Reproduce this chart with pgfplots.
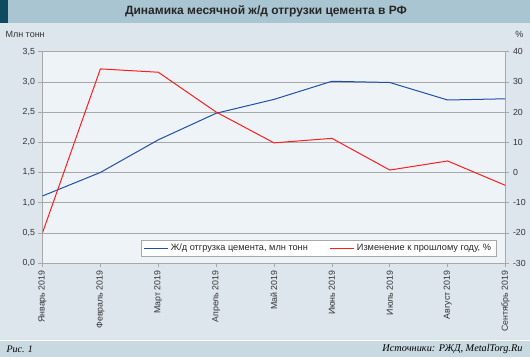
\documentclass[border=0pt]{standalone}
\usepackage{pgfplots}
\pgfplotsset{compat=1.18}
\usepackage{fontspec}
\setmainfont{Liberation Sans}
\newfontfamily\serifit{Liberation Serif}
\definecolor{titleband}{HTML}{A9C5D1}
\definecolor{darkstrip}{HTML}{0E4A60}
\definecolor{mainbg}{HTML}{DCE6EC}
\definecolor{plotbg}{HTML}{EEF3F7}
\definecolor{footband}{HTML}{C9D9E1}
\definecolor{gridc}{HTML}{A8A8A8}
\definecolor{blueline}{HTML}{1F50A8}
\definecolor{redline}{HTML}{FF1E1E}
\begin{document}
\begin{tikzpicture}[x=1pt,y=1pt]
\fill[mainbg] (0,0) rectangle (530,357);
\fill[titleband] (0,334) rectangle (530,357);
\fill[darkstrip] (0,334) rectangle (8,357);
\fill[white] (0,16) rectangle (530,17.5);
\fill[footband] (0,0) rectangle (530,16);
\useasboundingbox (0,0) rectangle (530,357);
\node[font=\bfseries\fontsize{12}{14}\selectfont, text=black!85] at (266,345.5) {Динамика месячной ж/д отгрузки цемента в РФ};
\node[font=\fontsize{9}{10}\selectfont, anchor=west, text=black!80] at (2,323) {Млн тонн};
\node[font=\fontsize{9}{10}\selectfont, anchor=east, text=black!80] at (527,323) {\%};
\node[font=\serifit\itshape\fontsize{10}{12}\selectfont, anchor=west] at (3,8) {Рис. 1};
\node[font=\serifit\itshape\fontsize{10.3}{12}\selectfont, anchor=east] at (526,8) {Источники: РЖД, MetalTorg.Ru};
\pgfplotsset{
  common/.style={
    scale only axis, width=463pt, height=211.3pt,
    at={(42.5pt,94pt)}, anchor=south west,
    xmin=0, xmax=8,
    xtick={0,...,8},
    tick style={color=gridc, line width=0.6pt},
    major tick length=4pt,
    tick align=outside,
    ticklabel style={font=\fontsize{8.8}{10}\selectfont, text=black!80},
    /pgf/number format/assume math mode=true,
  }
}
\begin{axis}[common,
  axis background/.style={fill=plotbg},
  axis x line*=bottom, axis y line*=left,
  axis line style={color=gridc, line width=0.6pt},
  ymin=0, ymax=3.5, ytick={0,0.5,...,3.5},
  ymajorgrids, grid style={color=gridc, line width=0.6pt},
  yticklabel style={/pgf/number format/.cd, fixed, fixed zerofill, precision=1, use comma},
  xticklabels={Январь 2019,Февраль 2019,Март 2019,Апрель 2019,Май 2019,Июнь 2019,Июль 2019,Август 2019,Сентябрь 2019},
  xticklabel style={rotate=90, anchor=east},
  xtick pos=bottom, ytick pos=left,
]
\addplot[color=blueline, line width=1pt] coordinates {(0,1.11) (1,1.50) (2,2.04) (3,2.48) (4,2.71) (5,3.01) (6,2.99) (7,2.70) (8,2.72)};
\end{axis}
\begin{axis}[common,
  axis x line=none, axis y line*=right,
  axis line style={color=gridc, line width=0.6pt},
  ymin=-30, ymax=40, ytick={-30,-20,...,40},
  yticklabel style={/pgf/number format/.cd, fixed, precision=0},
  xticklabels={},
  legend style={at={(0.98,0.03)}, anchor=south east, draw=gridc, fill=white,
    font=\fontsize{9.2}{10}\selectfont, text=black!85, legend columns=2, inner xsep=3pt, inner ysep=2pt,
    /tikz/every even column/.append style={column sep=20pt}},
  legend cell align=left,
  legend image code/.code={\draw[#1, line width=1pt] (0pt,0pt) -- (24pt,0pt);},
]
\addlegendimage{color=blueline, line width=1pt}
\addlegendentry{Ж/д отгрузка цемента, млн тонн}
\addplot[color=redline, line width=1pt] coordinates {(0,-20) (1,34.3) (2,33.2) (3,20) (4,9.8) (5,11.3) (6,0.8) (7,3.8) (8,-4.3)};
\addlegendentry{Изменение к прошлому году, \%}
\end{axis}
\end{tikzpicture}
\end{document}
